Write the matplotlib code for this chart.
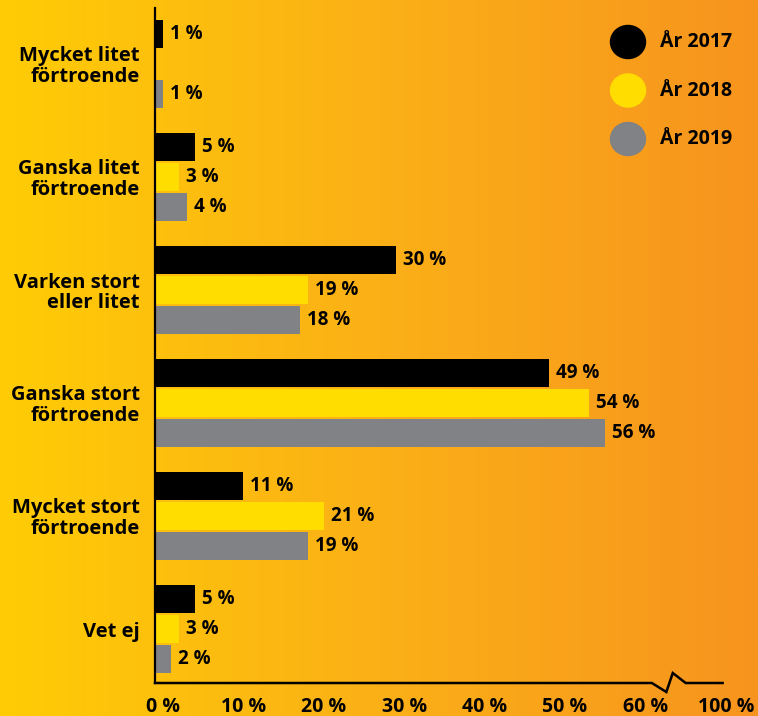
import numpy as np
import matplotlib
matplotlib.use('Agg')
import matplotlib.pyplot as plt
import matplotlib.transforms as mtransforms
from matplotlib.colors import LinearSegmentedColormap

plt.rcParams['font.family'] = ['Open Sans', 'DejaVu Sans']
plt.rcParams['font.weight'] = 'bold'

# data
categories = ['Mycket litet\nförtroende', 'Ganska litet\nförtroende', 'Varken stort\neller litet',
              'Ganska stort\nförtroende', 'Mycket stort\nförtroende', 'Vet ej']
years = ['År 2017', 'År 2018', 'År 2019']
v2017 = [1, 5, 30, 49, 11, 5]
v2018 = [None, 3, 19, 54, 21, 3]
v2019 = [1, 4, 18, 56, 19, 2]
tick_pos = [0, 10, 20, 30, 40, 50, 60, 70]
tick_labels = ['0 %', '10 %', '20 %', '30 %', '40 %', '50 %', '60 %', '100 %']

colors = ['#000000', '#FFDD00', '#818285']
series = [v2017, v2018, v2019]

fig = plt.figure(figsize=(7.58, 7.16), dpi=100)

# bakgrund: gul -> orange
bg = fig.add_axes([0, 0, 1, 1], zorder=-10)
cmap = LinearSegmentedColormap.from_list('bg', ['#FFCC05', '#FBB017', '#F7941E'])
bg.imshow(np.linspace(0, 1, 256).reshape(1, -1), aspect='auto', cmap=cmap, extent=[0, 1, 0, 1])
bg.axis('off')

W, H = 758, 716
x0, px_per = 155, 8.04
top, bottom = 8, 683
ax = fig.add_axes([x0 / W, 1 - bottom / H, 71 * px_per / W, (bottom - top) / H])
ax.patch.set_alpha(0)
ax.set_xlim(0, 71)
ax.set_ylim(bottom, top)

centers = [64 + 113 * i for i in range(len(categories))]
for k, vals in enumerate(series):
    for i, v in enumerate(vals):
        if v is None:
            continue
        y = centers[i] + (k - 1) * 30
        ax.barh(y, v, height=28, color=colors[k], linewidth=0)
        ax.annotate(f'{v} %', (v, y), xytext=(5, 0), textcoords='offset points',
                    va='center', ha='left', fontsize=13.5, fontweight='bold')

ax.set_yticks(centers)
ax.set_yticklabels(categories, fontsize=14.5, fontweight='bold', linespacing=1.05)
ax.tick_params(axis='y', length=0, pad=11)

ax.set_xticks(tick_pos)
ax.set_xticklabels(tick_labels, fontsize=14, fontweight='bold')
ax.tick_params(axis='x', length=0, pad=10)
offset = mtransforms.ScaledTranslation(8 / 100, 0, fig.dpi_scale_trans)
for lab in ax.get_xticklabels():
    lab.set_transform(lab.get_transform() + offset)

for s in ['top', 'right', 'bottom']:
    ax.spines[s].set_visible(False)
ax.spines['left'].set_linewidth(1.6)

# x-axel med brytning
bx = [0, 61.8, 63.6, 64.4, 66.0, 70.6]
by = [bottom, bottom, bottom + 9, bottom - 10, bottom, bottom]
ax.plot(bx, by, color='black', linewidth=1.8, clip_on=False, solid_joinstyle='miter')

# legend
for k, name in enumerate(years):
    cy = 1 - (42 + 48.5 * k) / H
    fig.patches.append(plt.Circle((628 / W, cy), 17.5 / W, transform=fig.transFigure,
                                  color=colors[k], figure=fig))
    fig.text(660 / W, cy, name, va='center', ha='left', fontsize=14, fontweight='bold')

plt.savefig('out.png', dpi=100)
